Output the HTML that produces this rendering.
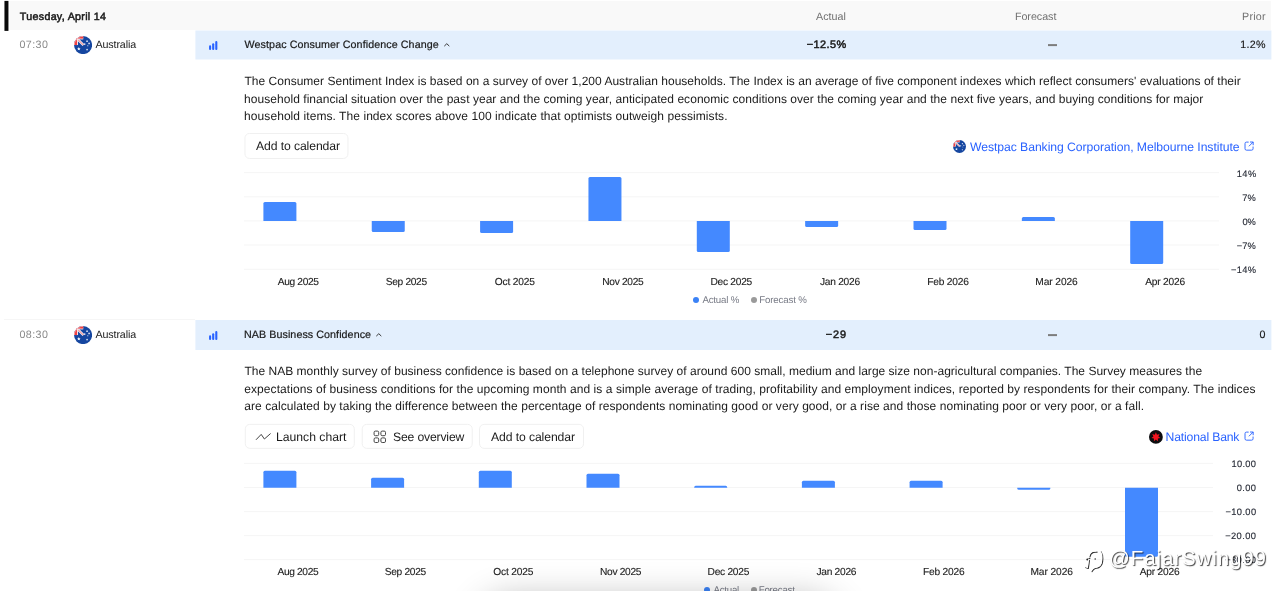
<!DOCTYPE html>
<html><head><meta charset="utf-8"><title>Economic calendar</title>
<style>
html,body{margin:0;padding:0;background:#fff;}
body{width:1280px;height:591px;position:relative;overflow:hidden;font-family:"Liberation Sans",sans-serif;color:#1a1a1a;}
#w{position:absolute;left:0;top:0;width:1280px;height:591px;will-change:transform;overflow:hidden;}
.t{position:absolute;white-space:pre;line-height:20px;text-rendering:geometricPrecision;}
.a{position:absolute;}
.grid{position:absolute;height:1px;background:#f5f5f5;}
.bar{position:absolute;background:#4489ff;}
.btn{position:absolute;box-sizing:border-box;border:1px solid #f0f0f0;border-radius:5px;background:#fff;}
</style></head><body><div id="w">

<div class="a" style="left:10px;top:1px;width:1261px;height:29px;background:#f9f9f9;transform:translateY(0.1px)"></div>
<div class="a" style="left:4px;top:1px;width:4.2px;height:29.5px;background:#0a0a0a;transform:translate(0.45px,-0.1px)"></div>
<div class="t" style="left:19.87px;top:7px;font-size:10.7px;letter-spacing:0.294px;-webkit-text-stroke:0.5px currentColor;">Tuesday, April 14</div>
<div class="t" style="left:815.97px;top:7px;font-size:10.7px;color:#707070;letter-spacing:0.044px;">Actual</div>
<div class="t" style="left:1014.94px;top:7px;font-size:10.7px;color:#707070;letter-spacing:-0.018px;">Forecast</div>
<div class="t" style="left:1242.04px;top:7px;font-size:10.7px;color:#707070;letter-spacing:0.225px;">Prior</div>
<div class="a" style="left:195px;top:30px;width:1076px;height:29px;background:#e3effd;transform:translate(0.4px,0.5px)"></div>
<div class="t" style="left:19.52px;top:35px;font-size:10.7px;color:#8a8a8a;letter-spacing:0.414px;">07:30</div>
<svg class="a" style="left:73.9px;top:35.7px" width="18.1" height="18.1" viewBox="0 0 18 18"><defs><clipPath id="f1"><circle cx="9" cy="9" r="9"/></clipPath></defs><g clip-path="url(#f1)"><rect width="18" height="18" fill="#1546a0"/><rect x="0" y="0" width="9.2" height="9" fill="#1546a0"/><path d="M3.6 3.2 L9.4 9" stroke="#f3f5fb" stroke-width="2.4"/><path d="M3.6 3.2 L9.4 9" stroke="#f24848" stroke-width="0.8"/><rect x="0" y="0" width="9.2" height="3.4" fill="#f3f5fb"/><rect x="0" y="0" width="4" height="9" fill="#f3f5fb"/><rect x="0" y="0" width="9.2" height="2.6" fill="#f24040"/><rect x="0" y="0" width="3.1" height="9" fill="#f24040"/><path d="M0 9 A9 9 0 0 1 9 0" fill="none" stroke="#fff" stroke-width="1.4" opacity="0.5"/>
<path d="M4.8 10.9 L5.3 12.1 L6.6 12.2 L5.6 13 L5.9 14.3 L4.8 13.6 L3.7 14.3 L4 13 L3 12.2 L4.3 12.1 Z" fill="#fff"/><circle cx="13" cy="5.1" r="0.85" fill="#dfe6f5"/><circle cx="15" cy="7.4" r="0.85" fill="#dfe6f5"/><circle cx="10.6" cy="8" r="0.85" fill="#dfe6f5"/><circle cx="13.7" cy="9.7" r="0.6" fill="#dfe6f5"/><circle cx="13" cy="13.5" r="0.85" fill="#dfe6f5"/></g></svg>
<div class="t" style="left:95.47px;top:35px;font-size:10.7px;letter-spacing:-0.113px;">Australia</div>
<svg class="a" style="left:208px;top:39.9px" width="11" height="12" viewBox="0 0 11 12"><g stroke="#2962ff" stroke-width="2.1" stroke-linecap="round"><path d="M2.1 6.4V9"/><path d="M5.2 4.2V9"/><path d="M8.3 2V9"/></g></svg>
<div class="t" style="left:244.58px;top:35px;font-size:10.7px;letter-spacing:0.092px;-webkit-text-stroke:0.2px currentColor;">Westpac Consumer Confidence Change</div>
<svg class="a" style="left:442.7px;top:41.7px" width="8" height="6" viewBox="0 0 8 6"><path d="M1.3 4.1 L3.8 1.7 L6.3 4.1" fill="none" stroke="#333" stroke-width="1"/></svg>
<div class="t" style="left:806.78px;top:35px;font-size:10.9px;letter-spacing:0.432px;-webkit-text-stroke:0.5px currentColor;">−12.5%</div>
<div class="a" style="left:1048px;top:44.00px;width:8.5px;height:2px;background:#7d7d7d;transform:translateY(0.1px)"></div>
<div class="t" style="left:1240.17px;top:35px;font-size:10.7px;letter-spacing:0.317px;-webkit-text-stroke:0.15px currentColor;">1.2%</div>
<div class="a" style="left:4px;top:319px;width:191px;height:1px;background:#f6f6f6"></div>
<div class="a" style="left:195px;top:320px;width:1076px;height:29.75px;background:#e3effd;transform:translate(0.4px,0px)"></div>
<div class="t" style="left:19.52px;top:325px;font-size:10.7px;color:#8a8a8a;letter-spacing:0.414px;">08:30</div>
<svg class="a" style="left:73.9px;top:326.0px" width="18.1" height="18.1" viewBox="0 0 18 18"><defs><clipPath id="f2"><circle cx="9" cy="9" r="9"/></clipPath></defs><g clip-path="url(#f2)"><rect width="18" height="18" fill="#1546a0"/><rect x="0" y="0" width="9.2" height="9" fill="#1546a0"/><path d="M3.6 3.2 L9.4 9" stroke="#f3f5fb" stroke-width="2.4"/><path d="M3.6 3.2 L9.4 9" stroke="#f24848" stroke-width="0.8"/><rect x="0" y="0" width="9.2" height="3.4" fill="#f3f5fb"/><rect x="0" y="0" width="4" height="9" fill="#f3f5fb"/><rect x="0" y="0" width="9.2" height="2.6" fill="#f24040"/><rect x="0" y="0" width="3.1" height="9" fill="#f24040"/><path d="M0 9 A9 9 0 0 1 9 0" fill="none" stroke="#fff" stroke-width="1.4" opacity="0.5"/>
<path d="M4.8 10.9 L5.3 12.1 L6.6 12.2 L5.6 13 L5.9 14.3 L4.8 13.6 L3.7 14.3 L4 13 L3 12.2 L4.3 12.1 Z" fill="#fff"/><circle cx="13" cy="5.1" r="0.85" fill="#dfe6f5"/><circle cx="15" cy="7.4" r="0.85" fill="#dfe6f5"/><circle cx="10.6" cy="8" r="0.85" fill="#dfe6f5"/><circle cx="13.7" cy="9.7" r="0.6" fill="#dfe6f5"/><circle cx="13" cy="13.5" r="0.85" fill="#dfe6f5"/></g></svg>
<div class="t" style="left:95.47px;top:325px;font-size:10.7px;letter-spacing:-0.113px;">Australia</div>
<svg class="a" style="left:208px;top:330.2px" width="11" height="12" viewBox="0 0 11 12"><g stroke="#2962ff" stroke-width="2.1" stroke-linecap="round"><path d="M2.1 6.4V9"/><path d="M5.2 4.2V9"/><path d="M8.3 2V9"/></g></svg>
<div class="t" style="left:244.04px;top:325px;font-size:10.7px;letter-spacing:0.074px;-webkit-text-stroke:0.2px currentColor;">NAB Business Confidence</div>
<svg class="a" style="left:375.1px;top:332.0px" width="8" height="6" viewBox="0 0 8 6"><path d="M1.3 4.1 L3.8 1.7 L6.3 4.1" fill="none" stroke="#333" stroke-width="1"/></svg>
<div class="t" style="left:825.78px;top:325px;font-size:10.9px;letter-spacing:0.968px;-webkit-text-stroke:0.5px currentColor;">−29</div>
<div class="a" style="left:1048px;top:334.30px;width:8.5px;height:2px;background:#7d7d7d;transform:translateY(0.1px)"></div>
<div class="t" style="left:1259.46px;top:325px;font-size:10.7px;-webkit-text-stroke:0.15px currentColor;">0</div>
<div class="t" style="left:244.52px;top:71px;font-size:12px;letter-spacing:0.016px;">The Consumer Sentiment Index is based on a survey of over 1,200 Australian households. The Index is an average of five component indexes which reflect consumers' evaluations of their</div>
<div class="t" style="left:244.10px;top:89px;font-size:12px;letter-spacing:0.045px;">household financial situation over the past year and the coming year, anticipated economic conditions over the coming year and the next five years, and buying conditions for major</div>
<div class="t" style="left:244.10px;top:106px;font-size:12px;letter-spacing:0.069px;">household items. The index scores above 100 indicate that optimists outweigh pessimists.</div>
<div class="t" style="left:244.42px;top:361px;font-size:12px;letter-spacing:0.016px;">The NAB monthly survey of business confidence is based on a telephone survey of around 600 small, medium and large size non-agricultural companies. The Survey measures the</div>
<div class="t" style="left:244.30px;top:379px;font-size:12px;letter-spacing:0.07px;">expectations of business conditions for the upcoming month and is a simple average of trading, profitability and employment indices, reported by respondents for their company. The indices</div>
<div class="t" style="left:244.29px;top:396px;font-size:12px;letter-spacing:0.056px;">are calculated by taking the difference between the percentage of respondents nominating good or very good, or a rise and those nominating poor or very poor, or a fall.</div>
<div class="btn" style="left:244px;top:132px;width:104px;height:26px;transform:translate(0.45px,0.95px)"></div>
<div class="t" style="left:255.96px;top:136px;font-size:12.2px;letter-spacing:-0.093px;">Add to calendar</div>
<svg class="a" style="left:953.3px;top:140.2px" width="13" height="13" viewBox="0 0 18 18"><defs><clipPath id="f3"><circle cx="9" cy="9" r="9"/></clipPath></defs><g clip-path="url(#f3)"><rect width="18" height="18" fill="#1546a0"/><rect x="0" y="0" width="9.2" height="9" fill="#1546a0"/><path d="M3.6 3.2 L9.4 9" stroke="#f3f5fb" stroke-width="2.4"/><path d="M3.6 3.2 L9.4 9" stroke="#f24848" stroke-width="0.8"/><rect x="0" y="0" width="9.2" height="3.4" fill="#f3f5fb"/><rect x="0" y="0" width="4" height="9" fill="#f3f5fb"/><rect x="0" y="0" width="9.2" height="2.6" fill="#f24040"/><rect x="0" y="0" width="3.1" height="9" fill="#f24040"/><path d="M0 9 A9 9 0 0 1 9 0" fill="none" stroke="#fff" stroke-width="1.4" opacity="0.5"/>
<path d="M4.8 10.9 L5.3 12.1 L6.6 12.2 L5.6 13 L5.9 14.3 L4.8 13.6 L3.7 14.3 L4 13 L3 12.2 L4.3 12.1 Z" fill="#fff"/><circle cx="13" cy="5.1" r="0.85" fill="#dfe6f5"/><circle cx="15" cy="7.4" r="0.85" fill="#dfe6f5"/><circle cx="10.6" cy="8" r="0.85" fill="#dfe6f5"/><circle cx="13.7" cy="9.7" r="0.6" fill="#dfe6f5"/><circle cx="13" cy="13.5" r="0.85" fill="#dfe6f5"/></g></svg>
<div class="t" style="left:969.94px;top:137px;font-size:12.2px;color:#2962ff;letter-spacing:-0.053px;">Westpac Banking Corporation, Melbourne Institute</div>
<svg class="a" style="left:1244.1px;top:140.9px" width="10.2" height="10.2" viewBox="0 0 11 11"><g fill="none" stroke="#2962ff" stroke-width="1" stroke-linecap="round" stroke-linejoin="round"><path d="M4.6 1.2H2.7A1.6 1.6 0 0 0 1.1 2.8V8.3A1.6 1.6 0 0 0 2.7 9.9H8.2A1.6 1.6 0 0 0 9.8 8.3V6.4"/><path d="M5.6 5.4L9.7 1.3"/><path d="M6.9 1.1H9.9V4.1"/></g></svg>
<div class="btn" style="left:244px;top:423px;width:110px;height:25px;transform:translate(0.80px,0.85px)"></div>
<svg class="a" style="left:255px;top:431px" width="17" height="11" viewBox="0 0 17 11"><path d="M1 8.8 L6.2 3.4 L9.4 8 L15.6 2.5" fill="none" stroke="#3a3a3a" stroke-width="0.95" stroke-linejoin="round"/></svg>
<div class="t" style="left:275.90px;top:427px;font-size:12.2px;letter-spacing:0.014px;">Launch chart</div>
<div class="btn" style="left:361px;top:423px;width:111px;height:25px;transform:translate(0.70px,0.85px)"></div>
<svg class="a" style="left:373.2px;top:429.7px" width="14" height="14" viewBox="0 0 14 14"><g fill="none" stroke="#444" stroke-width="1"><rect x="1.1" y="1.1" width="4.6" height="4.6" rx="1.3"/><rect x="7.9" y="1.1" width="4.6" height="4.6" rx="1.3"/><rect x="1.1" y="7.9" width="4.6" height="4.6" rx="1.3"/><rect x="7.9" y="7.9" width="4.6" height="4.6" rx="1.3"/></g></svg>
<div class="t" style="left:393.05px;top:427px;font-size:12.2px;letter-spacing:-0.172px;">See overview</div>
<div class="btn" style="left:479px;top:423px;width:105px;height:25px;transform:translate(0.05px,0.85px)"></div>
<div class="t" style="left:490.96px;top:427px;font-size:12.2px;letter-spacing:-0.093px;">Add to calendar</div>
<svg class="a" style="left:1149.4px;top:429.9px" width="13.8" height="13.8" viewBox="0 0 14 14"><circle cx="7" cy="7" r="7" fill="#0d0d0f"/><path d="M7 2.3 L8.1 4.7 L10.7 4.1 L9.5 6.5 L11.6 8.1 L9 8.7 L9 11.3 L7 9.7 L5 11.3 L5 8.7 L2.4 8.1 L4.5 6.5 L3.3 4.1 L5.9 4.7 Z" fill="#f0141e"/></svg>
<div class="t" style="left:1165.60px;top:427px;font-size:12.2px;color:#2962ff;letter-spacing:-0.169px;">National Bank</div>
<svg class="a" style="left:1244.1px;top:431.2px" width="10.2" height="10.2" viewBox="0 0 11 11"><g fill="none" stroke="#2962ff" stroke-width="1" stroke-linecap="round" stroke-linejoin="round"><path d="M4.6 1.2H2.7A1.6 1.6 0 0 0 1.1 2.8V8.3A1.6 1.6 0 0 0 2.7 9.9H8.2A1.6 1.6 0 0 0 9.8 8.3V6.4"/><path d="M5.6 5.4L9.7 1.3"/><path d="M6.9 1.1H9.9V4.1"/></g></svg>
<div class="grid" style="left:244px;top:172px;width:975.0px;transform:translateY(0.10px)"></div>
<div class="grid" style="left:244px;top:196px;width:975.0px;transform:translateY(0.30px)"></div>
<div class="grid" style="left:244px;top:220px;width:975.0px;transform:translateY(0.40px)"></div>
<div class="grid" style="left:244px;top:245px;width:975.0px;transform:translateY(-0.50px)"></div>
<div class="grid" style="left:244px;top:269px;width:975.0px;transform:translateY(-0.20px)"></div>
<div class="t" style="left:1236.81px;top:164px;font-size:9.3px;color:#2a2e39;letter-spacing:0.375px;-webkit-text-stroke:0.15px currentColor;">14%</div>
<div class="t" style="left:1242.15px;top:188px;font-size:9.3px;color:#2a2e39;letter-spacing:0.292px;-webkit-text-stroke:0.15px currentColor;">7%</div>
<div class="t" style="left:1242.55px;top:212px;font-size:9.3px;color:#2a2e39;letter-spacing:-0.134px;-webkit-text-stroke:0.15px currentColor;">0%</div>
<div class="t" style="left:1236.63px;top:236px;font-size:9.3px;color:#2a2e39;letter-spacing:0.159px;-webkit-text-stroke:0.15px currentColor;">−7%</div>
<div class="t" style="left:1230.93px;top:260px;font-size:9.3px;color:#2a2e39;letter-spacing:0.321px;-webkit-text-stroke:0.15px currentColor;">−14%</div>
<div class="bar" style="left:263px;top:202px;width:33px;height:19px;border-radius:1.5px 1.5px 0 0;transform:translate(0.40px,0.00px)"></div>
<div class="bar" style="left:371px;top:221px;width:33px;height:11px;border-radius:0 0 1.5px 1.5px;transform:translate(0.75px,0.00px)"></div>
<div class="bar" style="left:480px;top:221px;width:33px;height:12px;border-radius:0 0 1.5px 1.5px;transform:translate(0.10px,0.00px)"></div>
<div class="bar" style="left:588px;top:177px;width:33px;height:44px;border-radius:1.5px 1.5px 0 0;transform:translate(0.45px,0.00px)"></div>
<div class="bar" style="left:696px;top:221px;width:33px;height:31px;border-radius:0 0 1.5px 1.5px;transform:translate(0.80px,0.00px)"></div>
<div class="bar" style="left:805px;top:221px;width:33px;height:6px;border-radius:0 0 1.5px 1.5px;transform:translate(0.15px,0.00px)"></div>
<div class="bar" style="left:913px;top:221px;width:33px;height:9px;border-radius:0 0 1.5px 1.5px;transform:translate(0.50px,0.00px)"></div>
<div class="bar" style="left:1021px;top:217px;width:33px;height:4px;border-radius:1.5px 1.5px 0 0;transform:translate(0.85px,0.00px)"></div>
<div class="bar" style="left:1130px;top:221px;width:33px;height:43px;border-radius:0 0 1.5px 1.5px;transform:translate(0.20px,0.00px)"></div>
<div class="t" style="left:277.80px;top:273px;font-size:10.2px;color:#222222;letter-spacing:-0.353px;-webkit-text-stroke:0.12px currentColor;">Aug 2025</div>
<div class="t" style="left:385.69px;top:273px;font-size:10.2px;color:#222222;letter-spacing:-0.312px;-webkit-text-stroke:0.12px currentColor;">Sep 2025</div>
<div class="t" style="left:494.85px;top:273px;font-size:10.2px;color:#222222;letter-spacing:-0.168px;-webkit-text-stroke:0.12px currentColor;">Oct 2025</div>
<div class="t" style="left:602.28px;top:273px;font-size:10.2px;color:#222222;letter-spacing:-0.309px;-webkit-text-stroke:0.12px currentColor;">Nov 2025</div>
<div class="t" style="left:710.46px;top:273px;font-size:10.2px;color:#222222;letter-spacing:-0.259px;-webkit-text-stroke:0.12px currentColor;">Dec 2025</div>
<div class="t" style="left:820.00px;top:273px;font-size:10.2px;color:#222222;letter-spacing:-0.266px;-webkit-text-stroke:0.12px currentColor;">Jan 2026</div>
<div class="t" style="left:927.28px;top:273px;font-size:10.2px;color:#222222;letter-spacing:-0.21px;-webkit-text-stroke:0.12px currentColor;">Feb 2026</div>
<div class="t" style="left:1035.28px;top:273px;font-size:10.2px;color:#222222;letter-spacing:-0.081px;-webkit-text-stroke:0.12px currentColor;">Mar 2026</div>
<div class="t" style="left:1145.19px;top:273px;font-size:10.2px;color:#222222;letter-spacing:-0.202px;-webkit-text-stroke:0.12px currentColor;">Apr 2026</div>
<div class="a" style="left:693px;top:296.50px;width:6px;height:6px;border-radius:3px;background:#3b82f6"></div>
<div class="t" style="left:702.38px;top:291px;font-size:9.7px;color:#787b86;letter-spacing:-0.192px;">Actual %</div>
<div class="a" style="left:751px;top:296.50px;width:6px;height:6px;border-radius:3px;background:#9a9a9a"></div>
<div class="t" style="left:759.23px;top:291px;font-size:9.7px;color:#787b86;letter-spacing:-0.14px;">Forecast %</div>
<div class="grid" style="left:244px;top:463px;width:969.3px;transform:translateY(-0.10px)"></div>
<div class="grid" style="left:244px;top:487px;width:969.3px;transform:translateY(0.00px)"></div>
<div class="grid" style="left:244px;top:511px;width:969.3px;transform:translateY(0.10px)"></div>
<div class="grid" style="left:244px;top:535px;width:969.3px;transform:translateY(0.10px)"></div>
<div class="grid" style="left:244px;top:559px;width:969.3px;transform:translateY(0.10px)"></div>
<div class="t" style="left:1231.61px;top:454px;font-size:9.3px;color:#2a2e39;letter-spacing:0.268px;-webkit-text-stroke:0.15px currentColor;">10.00</div>
<div class="t" style="left:1236.75px;top:478px;font-size:9.3px;color:#2a2e39;letter-spacing:0.374px;-webkit-text-stroke:0.15px currentColor;">0.00</div>
<div class="t" style="left:1225.53px;top:502px;font-size:9.3px;color:#2a2e39;letter-spacing:0.372px;-webkit-text-stroke:0.15px currentColor;">−10.00</div>
<div class="t" style="left:1225.13px;top:526px;font-size:9.3px;color:#2a2e39;letter-spacing:0.416px;-webkit-text-stroke:0.15px currentColor;">−20.00</div>
<div class="t" style="left:1225.13px;top:550px;font-size:9.3px;color:#2a2e39;letter-spacing:0.416px;-webkit-text-stroke:0.15px currentColor;">−30.00</div>
<div class="bar" style="left:263px;top:470px;width:33px;height:17px;border-radius:1.5px 1.5px 0 0;transform:translate(0.40px,0.70px)"></div>
<div class="bar" style="left:371px;top:477px;width:33px;height:10px;border-radius:1.5px 1.5px 0 0;transform:translate(0.10px,0.70px)"></div>
<div class="bar" style="left:478px;top:470px;width:33px;height:17px;border-radius:1.5px 1.5px 0 0;transform:translate(0.80px,0.70px)"></div>
<div class="bar" style="left:586px;top:473px;width:33px;height:14px;border-radius:1.5px 1.5px 0 0;transform:translate(0.50px,0.70px)"></div>
<div class="bar" style="left:694px;top:485px;width:33px;height:2px;border-radius:1.5px 1.5px 0 0;transform:translate(0.20px,0.70px)"></div>
<div class="bar" style="left:801px;top:480px;width:33px;height:7px;border-radius:1.5px 1.5px 0 0;transform:translate(0.90px,0.70px)"></div>
<div class="bar" style="left:909px;top:480px;width:33px;height:7px;border-radius:1.5px 1.5px 0 0;transform:translate(0.60px,0.70px)"></div>
<div class="bar" style="left:1017px;top:487px;width:33px;height:2px;border-radius:0 0 1.5px 1.5px;transform:translate(0.30px,0.70px)"></div>
<div class="bar" style="left:1125px;top:487px;width:33px;height:69px;border-radius:0 0 1.5px 1.5px;transform:translate(0.00px,0.70px)"></div>
<div class="t" style="left:277.47px;top:563px;font-size:10.2px;color:#222222;letter-spacing:-0.353px;-webkit-text-stroke:0.12px currentColor;">Aug 2025</div>
<div class="t" style="left:384.72px;top:563px;font-size:10.2px;color:#222222;letter-spacing:-0.312px;-webkit-text-stroke:0.12px currentColor;">Sep 2025</div>
<div class="t" style="left:493.22px;top:563px;font-size:10.2px;color:#222222;letter-spacing:-0.168px;-webkit-text-stroke:0.12px currentColor;">Oct 2025</div>
<div class="t" style="left:600.01px;top:563px;font-size:10.2px;color:#222222;letter-spacing:-0.309px;-webkit-text-stroke:0.12px currentColor;">Nov 2025</div>
<div class="t" style="left:707.54px;top:563px;font-size:10.2px;color:#222222;letter-spacing:-0.259px;-webkit-text-stroke:0.12px currentColor;">Dec 2025</div>
<div class="t" style="left:816.43px;top:563px;font-size:10.2px;color:#222222;letter-spacing:-0.266px;-webkit-text-stroke:0.12px currentColor;">Jan 2026</div>
<div class="t" style="left:923.06px;top:563px;font-size:10.2px;color:#222222;letter-spacing:-0.21px;-webkit-text-stroke:0.12px currentColor;">Feb 2026</div>
<div class="t" style="left:1030.41px;top:563px;font-size:10.2px;color:#222222;letter-spacing:-0.081px;-webkit-text-stroke:0.12px currentColor;">Mar 2026</div>
<div class="t" style="left:1139.67px;top:563px;font-size:10.2px;color:#222222;letter-spacing:-0.202px;-webkit-text-stroke:0.12px currentColor;">Apr 2026</div>
<div class="a" style="left:704px;top:586.70px;width:6px;height:6px;border-radius:3px;background:#3b82f6"></div>
<div class="t" style="left:713.38px;top:581px;font-size:9.7px;color:#787b86;letter-spacing:-0.206px;">Actual</div>
<div class="a" style="left:750.5px;top:586.70px;width:6px;height:6px;border-radius:3px;background:#9a9a9a"></div>
<div class="t" style="left:758.73px;top:581px;font-size:9.7px;color:#787b86;letter-spacing:-0.212px;">Forecast</div>
<div class="a" style="left:480px;top:600px;width:358px;height:60px;border-radius:30px;box-shadow:0 0 36px rgba(0,0,0,0.31)"></div>
<svg class="a" style="left:1084px;top:548px" width="22" height="26" viewBox="0 0 22 26"><g fill="none" stroke-linecap="round" stroke-linejoin="round"><path d="M5.9 8.8C6.4 6.4 7.6 4.9 9.5 4.4C10.6 4.1 11.8 4.1 13 4.2M3.3 11.5L5.9 10.3M5.4 12.6L4.3 20.4L1.6 19.4M16.8 3.6C18.4 6 19 8.6 18.8 10.7C18.7 12.8 18.6 14.6 18.1 15.9C17.4 17.7 16.4 18.8 15.2 19.4C13.6 20.2 12 20.2 10.7 20.7C9.6 21.2 8.7 22.4 8.1 23.6" stroke="rgba(0,0,0,0.8)" stroke-width="1.2"/><path d="M5.9 8.8C6.4 6.4 7.6 4.9 9.5 4.4C10.6 4.1 11.8 4.1 13 4.2M3.3 11.5L5.9 10.3M5.4 12.6L4.3 20.4L1.6 19.4M16.8 3.6C18.4 6 19 8.6 18.8 10.7C18.7 12.8 18.6 14.6 18.1 15.9C17.4 17.7 16.4 18.8 15.2 19.4C13.6 20.2 12 20.2 10.7 20.7C9.6 21.2 8.7 22.4 8.1 23.6" stroke="#fff" stroke-width="1.3" transform="translate(-1,-1)"/></g><circle cx="11.2" cy="11" r="0.8" fill="#333"/><circle cx="3.3" cy="11.5" r="0.9" fill="#222"/></svg>
<div class="t" style="left:1109.07px;top:549px;font-size:20.5px;color:#fff;letter-spacing:0.899px;text-shadow:1px 1px 1px rgba(0,0,0,0.75);">@FajarSwing99</div>
</div></body></html>
